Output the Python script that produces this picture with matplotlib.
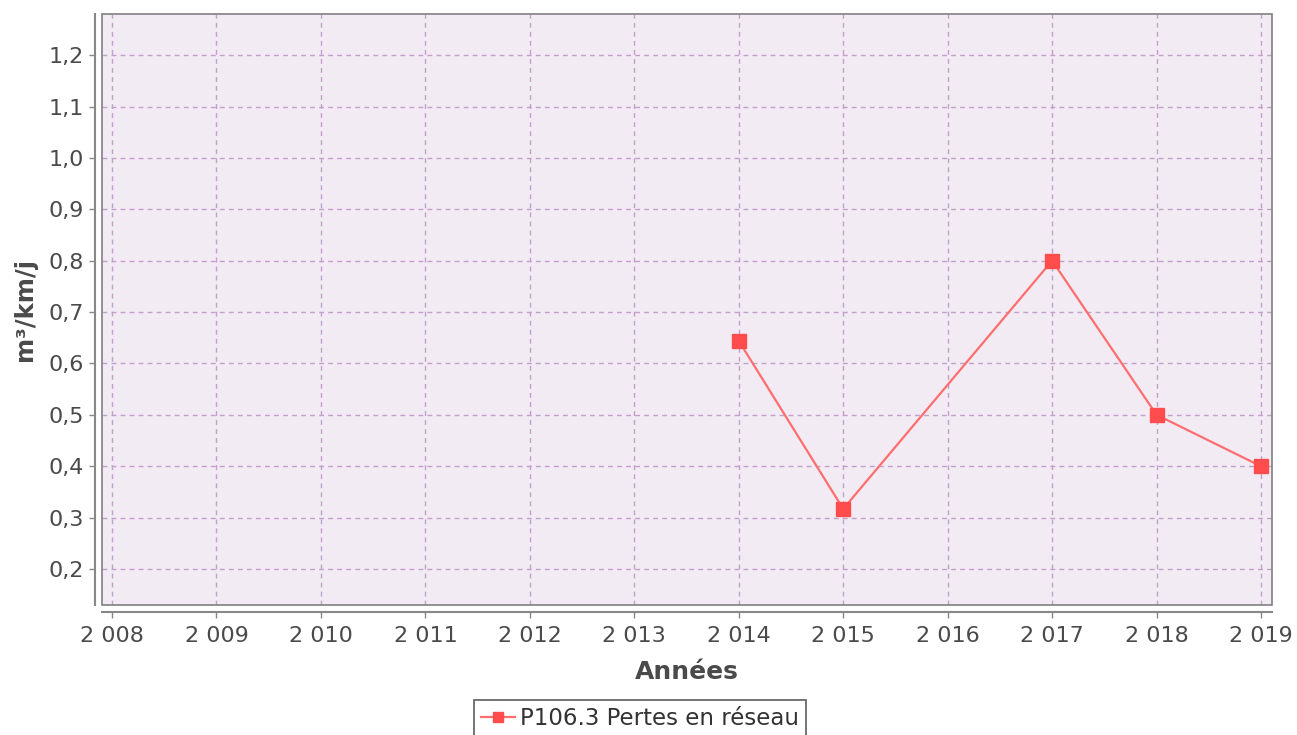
import matplotlib.pyplot as plt
from matplotlib.ticker import FuncFormatter, MultipleLocator
from matplotlib.patches import Rectangle

plt.rcParams['font.family'] = ['DejaVu Sans']

# Data
years = [2014, 2015, 2017, 2018, 2019]
pertes = [0.644, 0.317, 0.80, 0.50, 0.40]
serie_label = 'P106.3 Pertes en réseau'

fig = plt.figure(figsize=(12.97, 7.35), dpi=100)
ax = fig.add_axes([102 / 1297, 1 - 605 / 735, 1170 / 1297, 591 / 735])

ax.set_facecolor('#f2ebf3')
ax.plot(years, pertes, color='#ff6e6e', linewidth=1.6, marker='s', markersize=9.5,
        markerfacecolor='#ff4d4d', markeredgecolor='#ff4d4d', label=serie_label, zorder=3)

ax.set_xlim(2007.904, 2019.105)
ax.set_ylim(0.13, 1.28)
ax.xaxis.set_major_locator(MultipleLocator(1))
ax.yaxis.set_major_locator(MultipleLocator(0.1))

def fmt_year(v, pos):
    return f'{int(round(v)):,}'.replace(',', ' ')

def fmt_dec(v, pos):
    return f'{v:.1f}'.replace('.', ',')

ax.xaxis.set_major_formatter(FuncFormatter(fmt_year))
ax.yaxis.set_major_formatter(FuncFormatter(fmt_dec))

ax.grid(True, color='#c3a0cc', linestyle=(0, (3.5, 3)), linewidth=1.0)
ax.set_axisbelow(True)

# axis lines offset from plot outline, like JFreeChart
for side in ['top', 'right']:
    ax.spines[side].set_visible(False)
for side in ['left', 'bottom']:
    ax.spines[side].set_position(('outward', 5))
    ax.spines[side].set_color('#888888')
    ax.spines[side].set_linewidth(1.5)
ax.add_patch(Rectangle((0, 0), 1, 1, transform=ax.transAxes, fill=False,
                       edgecolor='#808080', linewidth=1.2, zorder=4, clip_on=False))

ax.tick_params(axis='both', colors='#888888', labelcolor='#4a4a4a', labelsize=16,
               length=4, width=1, pad=4)
ax.tick_params(axis='x', pad=6)

ax.set_xlabel('Années', fontsize=18, fontweight='bold', color='#4a4a4a', labelpad=10)
ax.set_ylabel('m³/km/j', fontsize=17.5, fontweight='bold', color='#4a4a4a', labelpad=8)

leg = fig.legend(loc='upper center', bbox_to_anchor=(640 / 1297, 1 - 700 / 735),
                 fontsize=16.5, frameon=True, fancybox=False, handlelength=1.5,
                 handletextpad=0.2, borderpad=0.3, borderaxespad=0, markerscale=0.8)
leg.get_frame().set_edgecolor('#333333')
leg.get_frame().set_linewidth(1.2)
for t in leg.get_texts():
    t.set_color('#333333')

fig.savefig('out.png', dpi=100)
